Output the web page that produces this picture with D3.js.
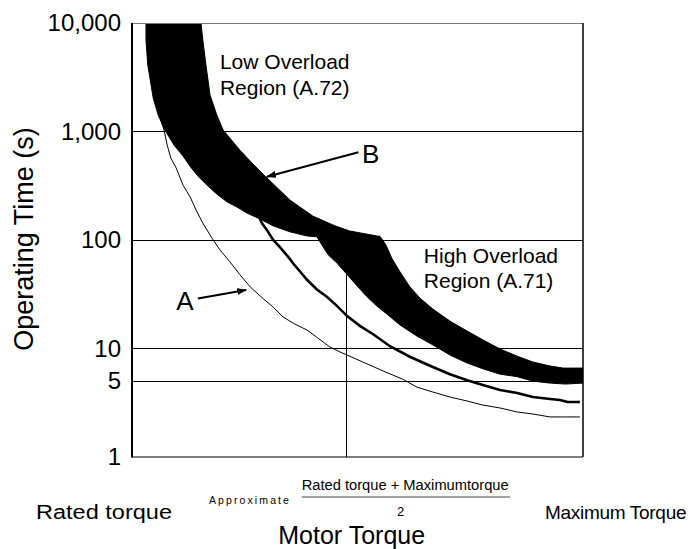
<!DOCTYPE html>
<html><head><meta charset="utf-8">
<script src="https://cdn.jsdelivr.net/npm/d3@7/dist/d3.min.js"></script>
<style>
html,body{margin:0;padding:0;background:#fff;}
svg text{font-family:"Liberation Sans",Arial,sans-serif;fill:#000;}
</style></head>
<body>
<svg id="chart" width="691" height="549"></svg>
<script>
// ---- data (torque as % between rated and maximum torque, time in seconds) ----
const yTicks = [1, 5, 10, 100, 1000, 10000];
const yTickLabels = ["1", "5", "10", "100", "1,000", "10,000"];
const gridValues = [5, 10, 100, 1000];
const midTorque = 47.5;

const bandUpper = [[15.3,10000],[15.7,6970],[16.4,4100],[17.3,2170],[18.8,1420],[20.2,1032],[23.9,675],[26.6,513],[29.7,381],[35.0,234],[40.1,166],[45.0,135],[48.3,121],[54.3,109],[55.0,108],[56.3,90],[57.6,68],[59.4,51],[61.6,37],[63.9,29],[66.7,23.1],[70.5,17.9],[74.3,14.5],[78.3,11.7],[81.6,9.9],[85.4,8.5],[88.9,7.5],[92.7,6.9],[95.6,6.6],[100,6.6]];
const bandLower = [[3.1,10000],[3.1,6970],[3.5,4100],[4.7,2036],[5.8,1420],[7.3,1032],[9.3,751],[11.3,595],[12.9,476],[14.6,389],[16.6,321],[18.8,265],[21.1,224],[23.3,201],[25.5,177],[28.4,156],[31.3,135],[35.0,119],[38.8,109],[41.0,107],[42.1,90],[43.5,73],[45.5,61],[48.3,45],[50.1,37],[52.1,30],[54.3,24.6],[56.5,20.8],[59.4,16.5],[63.2,13.0],[66.7,10.8],[70.5,8.7],[74.3,7.35],[77.8,6.5],[81.6,5.8],[85.4,5.5],[88.9,5.0],[92.7,4.8],[96.1,4.7],[100,4.8]];
const curveThick = [[27.5,190],[28.8,143],[29.9,124],[31.3,100],[32.8,86],[35.0,67],[35.7,61],[37.3,51],[38.8,43],[41.0,35],[43.2,30],[45.5,24.6],[47.7,19.9],[50.6,16.1],[53.4,13.6],[57.2,10.5],[61.6,8.4],[66.7,6.75],[70.5,5.8],[74.3,5.1],[77.8,4.6],[81.6,4.15],[85.4,3.89],[88.9,3.57],[92.7,3.42],[94.9,3.35],[96.6,3.21],[99.3,3.21]];
const curveA = [[5.8,1513],[7.1,1032],[7.8,751],[8.6,570],[9.8,461],[11.3,321],[12.9,249],[14.2,189],[15.7,143],[18.0,100],[19.5,81],[21.7,63],[23.9,48],[26.2,37],[29.0,29],[31.3,24.1],[33.5,19.5],[36.1,16.8],[38.8,14.8],[41.2,12.5],[43.9,10.3],[46.1,9.3],[47.7,8.7],[51.2,7.5],[55.7,6.2],[60.1,5.2],[63.2,4.4],[66.7,3.97],[70.5,3.57],[74.3,3.28],[77.8,3.01],[81.6,2.83],[85.4,2.60],[88.9,2.49],[92.7,2.34],[96.1,2.34],[99.3,2.34]];

const arrowA = [[14.6,28.9],[25.3,34.6]];
const arrowB = [[50.2,643],[29.9,383]];
const labelA = {text:"A", t:11.75, v:22.6};
const labelB = {text:"B", t:51.0, v:509};
const lowRegion = {lines:["Low Overload","Region (A.72)"], t:19.5, v:[3767,2170]};
const highRegion = {lines:["High Overload","Region (A.71)"], t:64.7, v:[61,35.9]};

// ---- chart ----
const svg = d3.select("#chart");
const x = d3.scaleLinear().domain([0,100]).range([132,583]);
const y = d3.scaleLog().domain([1,10000]).range([457,23]);
const X0 = x.range()[0], X1 = x.range()[1], Y0 = y.range()[0], Y1 = y.range()[1];

svg.append("defs").append("clipPath").attr("id","plotclip")
  .append("rect").attr("x",X0).attr("y",Y1).attr("width",X1-X0).attr("height",Y0-Y1);
const defs = svg.select("defs");
defs.append("marker").attr("id","ah").attr("viewBox","0 -4 10 8")
  .attr("refX",9).attr("refY",0).attr("markerWidth",10).attr("markerHeight",8)
  .attr("markerUnits","userSpaceOnUse").attr("orient","auto")
  .append("path").attr("d","M0,-3.5L10,0L0,3.5Z").attr("fill","#000");

// grid lines
svg.append("g").selectAll("line").data(gridValues).join("line")
  .attr("x1",X0).attr("x2",X1).attr("y1",d=>y(d)).attr("y2",d=>y(d))
  .attr("stroke","#000").attr("stroke-width",1).attr("shape-rendering","crispEdges");

// y axis labels
const yAxis = d3.axisLeft(y).tickValues(yTicks)
  .tickFormat(d=>yTickLabels[yTicks.indexOf(d)]).tickSize(0).tickPadding(11);
const gAx = svg.append("g").attr("transform",`translate(${X0},0)`).call(yAxis);
gAx.select(".domain").remove();
gAx.selectAll("text").attr("font-size",24).attr("font-family","Liberation Sans, Arial, sans-serif").attr("fill","#000");

const plot = svg.append("g").attr("clip-path","url(#plotclip)");
// mid torque vertical line
plot.append("line").attr("x1",x(midTorque)).attr("x2",x(midTorque))
  .attr("y1",y(100)).attr("y2",Y0).attr("stroke","#000").attr("stroke-width",1)
  .attr("shape-rendering","crispEdges");

const line = d3.line().x(d=>x(d[0])).y(d=>y(d[1])).curve(d3.curveLinear);
plot.append("path").attr("d",line(curveA)).attr("fill","none").attr("stroke","#000").attr("stroke-width",1);
plot.append("path").attr("d",line(curveThick)).attr("fill","none").attr("stroke","#000").attr("stroke-width",2.6);
// band B
const bandPts = bandUpper.concat(bandLower.slice().reverse());
plot.append("path").attr("d",line(bandPts)+"Z").attr("fill","#000").attr("stroke","#000").attr("stroke-width",1);

// frame
svg.append("line").attr("x1",X0).attr("x2",X1).attr("y1",Y1+0.5).attr("y2",Y1+0.5).attr("stroke","#777").attr("stroke-width",1);
svg.append("line").attr("x1",X1).attr("x2",X1).attr("y1",Y1).attr("y2",Y0).attr("stroke","#000").attr("stroke-width",1.5);
svg.append("line").attr("x1",X0).attr("x2",X1).attr("y1",Y0).attr("y2",Y0).attr("stroke","#000").attr("stroke-width",1.2);
svg.append("line").attr("x1",X0).attr("x2",X0).attr("y1",Y1).attr("y2",Y0+0.5).attr("stroke","#000").attr("stroke-width",2);

// arrows
[arrowA, arrowB].forEach(a=>{
  svg.append("line").attr("x1",x(a[0][0])).attr("y1",y(a[0][1]))
    .attr("x2",x(a[1][0])).attr("y2",y(a[1][1]))
    .attr("stroke","#000").attr("stroke-width",2).attr("marker-end","url(#ah)");
});
[labelA,labelB].forEach(l=>{
  svg.append("text").attr("x",x(l.t)).attr("y",y(l.v)).attr("font-size",26)
    .attr("text-anchor", l===labelA ? "middle" : "start").text(l.text);
});
[lowRegion, highRegion].forEach(r=>{
  r.lines.forEach((s,i)=>{
    svg.append("text").attr("x",x(r.t)).attr("y",y(r.v[i])).attr("font-size",21).text(s);
  });
});

// axis titles
svg.append("text").attr("transform","translate(33,239) rotate(-90)")
  .attr("text-anchor","middle").attr("font-size",27).text("Operating Time (s)");
svg.append("text").attr("x",351.7).attr("y",544).attr("text-anchor","middle")
  .attr("font-size",25).text("Motor Torque");
svg.append("text").attr("x",36).attr("y",519).attr("font-size",20)
  .attr("textLength",136).attr("lengthAdjust","spacingAndGlyphs").text("Rated torque");
svg.append("text").attr("x",545).attr("y",519).attr("font-size",19)
  .attr("letter-spacing",-0.3).text("Maximum Torque");
svg.append("text").attr("x",209).attr("y",504).attr("font-size",10.5)
  .attr("letter-spacing",2.1).text("Approximate");
svg.append("text").attr("x",301.7).attr("y",490).attr("font-size",14)
  .attr("textLength",207).attr("lengthAdjust","spacingAndGlyphs").text("Rated torque + Maximumtorque");
svg.append("line").attr("x1",301.7).attr("x2",510).attr("y1",497).attr("y2",497)
  .attr("stroke","#444").attr("stroke-width",1);
svg.append("text").attr("x",400.5).attr("y",515.5).attr("text-anchor","middle")
  .attr("font-size",13).text("2");
</script>
</body></html>
